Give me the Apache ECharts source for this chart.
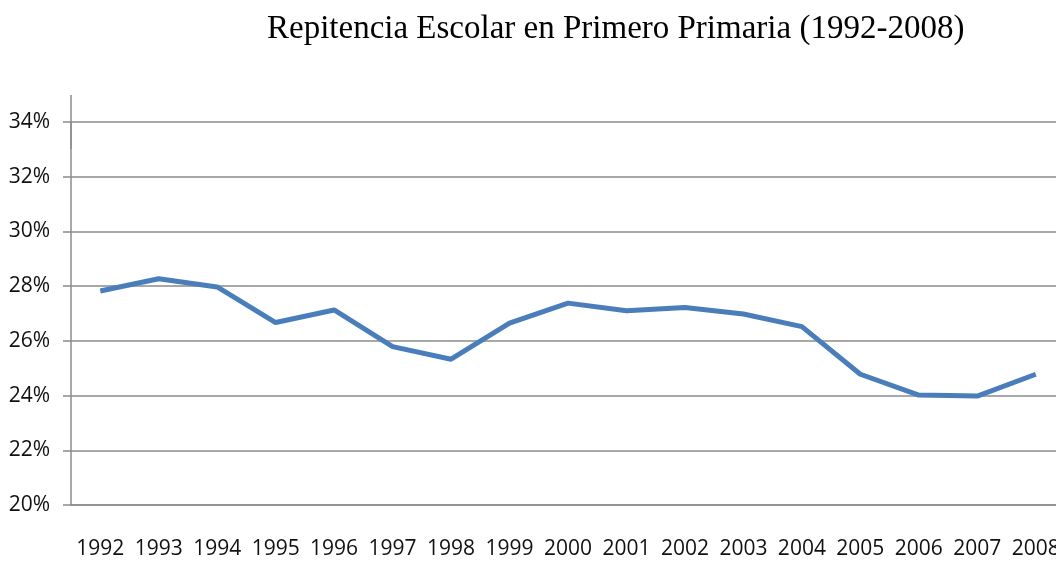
<!DOCTYPE html>
<html>
<head>
<meta charset="utf-8">
<script src="https://cdn.jsdelivr.net/npm/echarts@6/dist/echarts.min.js"></script>
<style>
    html, body { margin: 0; padding: 0; background: #fff; overflow: hidden; }
    #chart { width: 1065px; height: 562px; }
</style>
</head>
<body>
<div id="chart"></div>
<script>
// datos
let years = ['1992', '1993', '1994', '1995', '1996', '1997', '1998', '1999', '2000',
    '2001', '2002', '2003', '2004', '2005', '2006', '2007', '2008'];
let repitencia = [27.82, 28.27, 27.97, 26.67, 27.13, 25.79, 25.33, 26.65, 27.38,
    27.1, 27.22, 26.98, 26.52, 24.78, 24.02, 23.98, 24.78];
let y_min = 20;
let y_max = 34;
let y_step = 2;

let label_font = '"Open Sans", sans-serif';

let chart = echarts.init(document.getElementById('chart'));

let option = {
    animation: false,
    title: {
        text: 'Repitencia Escolar en Primero Primaria (1992-2008)',
        left: 262,
        top: 8,
        textStyle: {
            fontFamily: 'Liberation Serif',
            fontSize: 33,
            fontWeight: 'normal',
            color: '#000'
        }
    },
    grid: {
        left: 71,
        right: 0,
        top: 122,
        bottom: 57,
        outerBoundsMode: 'none'
    },
    xAxis: {
        type: 'category',
        data: years,
        boundaryGap: true,
        axisLine: { lineStyle: { color: '#8c8c8c', width: 1.5 } },
        axisTick: { length: 8, lineStyle: { color: '#8c8c8c', width: 1.5 } },
        axisLabel: {
            interval: 0,
            margin: 34,
            fontFamily: label_font,
            fontSize: 21,
            color: '#111'
        }
    },
    yAxis: {
        type: 'value',
        min: y_min,
        max: y_max,
        interval: y_step,
        axisLine: {
            show: true,
            // prolonga el eje por encima del 34%
            symbol: ['none', 'rect'],
            symbolSize: [1.5, 54],
            lineStyle: { color: '#8c8c8c', width: 1.5 }
        },
        axisTick: { show: true, length: 8, lineStyle: { color: '#8c8c8c', width: 1.5 } },
        axisLabel: {
            margin: 21,
            fontFamily: label_font,
            fontSize: 21,
            color: '#111',
            formatter: function (v) { return v + '%'; }
        },
        splitLine: { lineStyle: { color: '#a8a8a8', width: 2 } }
    },
    series: [{
        type: 'line',
        data: repitencia,
        symbol: 'none',
        lineStyle: { color: '#4a7ebb', width: 5 }
    }]
};

chart.setOption(option);
</script>
</body>
</html>
